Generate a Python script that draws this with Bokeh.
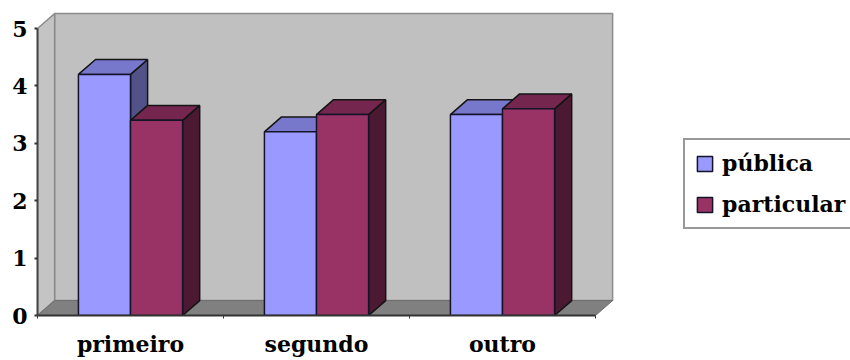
from bokeh.plotting import figure
from bokeh.models import Range1d, FixedTicker, Legend, LegendItem, ColumnDataSource
from bokeh.embed import file_html
from bokeh.resources import INLINE

categories = ["primeiro", "segundo", "outro"]
publica = [4.2, 3.2, 3.5]
particular = [3.4, 3.5, 3.6]
series_names = ["pública", "particular"]
y_ticks = [0, 1, 2, 3, 4, 5]

# 3D look: depth offset of the walls and bars, in data units
DX = 0.092
DY = 0.26
BAR_W = 0.28
Y_MAX = 5
FONT = "DejaVu Serif"

colors = {
    "pública": {"front": "#9999FF", "top": "#7777CC", "side": "#525288"},
    "particular": {"front": "#993366", "top": "#74264F", "side": "#4C1932"},
}

p = figure(width=850, height=360, output_backend="svg", toolbar_location=None,
           x_range=Range1d(0, 813 / 186), y_range=Range1d(0, 315 / 57.4),
           min_border_left=37, min_border_right=0, min_border_top=0, min_border_bottom=45)
p.outline_line_color = None
p.background_fill_color = "white"
p.border_fill_color = "white"
p.xgrid.visible = False
p.ygrid.visible = False

n = len(categories)
# back wall, left wall and floor
p.patch([DX, n + DX, n + DX, DX], [DY, DY, Y_MAX + DY, Y_MAX + DY],
        fill_color="#C0C0C0", line_color="#8C8C8C", line_width=1.5)
p.patch([0, DX, DX, 0], [0, DY, Y_MAX + DY, Y_MAX],
        fill_color="#C4C4C4", line_color="#8C8C8C", line_width=1.5)
p.patch([0, n, n + DX, DX], [0, 0, DY, DY],
        fill_color="#808080", line_color="#6E6E6E", line_width=1)


def draw_series(values, offset, name):
    lefts = [i + offset for i in range(n)]
    rights = [l + BAR_W for l in lefts]
    side_xs = [[r, r + DX, r + DX, r] for r in rights]
    side_ys = [[0, DY, v + DY, v] for v in values]
    top_xs = [[l, r, r + DX, l + DX] for l, r in zip(lefts, rights)]
    top_ys = [[v, v, v + DY, v + DY] for v in values]
    c = colors[name]
    p.patches(side_xs, side_ys, fill_color=c["side"], line_color="#141414", line_width=1.5)
    p.patches(top_xs, top_ys, fill_color=c["top"], line_color="#141414", line_width=1.5)
    src = ColumnDataSource(dict(left=lefts, right=rights, top=values, bottom=[0] * n))
    return p.quad(left="left", right="right", top="top", bottom="bottom", source=src,
                  fill_color=c["front"], line_color="#141428", line_width=1.5)


r_pub = draw_series(publica, 0.5 - BAR_W, "pública")
r_par = draw_series(particular, 0.5, "particular")

# axes
xa = p.xaxis[0]
xa.ticker = FixedTicker(ticks=[i + 0.5 for i in range(n)], minor_ticks=list(range(n + 1)))
xa.major_label_overrides = {i + 0.5: c for i, c in enumerate(categories)}
xa.bounds = (0, n)
xa.axis_line_color = "#333333"
xa.axis_line_width = 2
xa.major_tick_line_color = None
xa.minor_tick_out = 3
xa.minor_tick_in = 0
xa.minor_tick_line_color = "#333333"
xa.major_label_standoff = 9
xa.major_label_text_font = FONT
xa.major_label_text_font_style = "bold"
xa.major_label_text_font_size = "22px"
xa.major_label_text_color = "black"

ya = p.yaxis[0]
ya.ticker = FixedTicker(ticks=y_ticks, minor_ticks=[])
ya.bounds = (0, Y_MAX)
ya.axis_line_color = "#444444"
ya.axis_line_width = 2
ya.major_tick_out = 3
ya.major_tick_in = 0
ya.major_tick_line_color = "#333333"
ya.major_tick_line_width = 2
ya.major_label_standoff = 7
ya.major_label_text_font = FONT
ya.major_label_text_font_style = "bold"
ya.major_label_text_font_size = "22px"
ya.major_label_text_color = "black"

legend = Legend(items=[LegendItem(label=series_names[0], renderers=[r_pub]),
                       LegendItem(label=series_names[1], renderers=[r_par])],
                location=(646, 86))
legend.border_line_color = "#333333"
legend.border_line_width = 2
legend.background_fill_color = "white"
legend.background_fill_alpha = 1
legend.label_text_font = FONT
legend.label_text_font_style = "bold"
legend.label_text_font_size = "22px"
legend.label_text_color = "black"
legend.glyph_width = 19
legend.glyph_height = 19
legend.label_height = 26
legend.spacing = 15
legend.padding = 10
legend.margin = 0
legend.label_standoff = 8
p.add_layout(legend, "center")

open("out.html", "w").write(file_html(p, INLINE))
